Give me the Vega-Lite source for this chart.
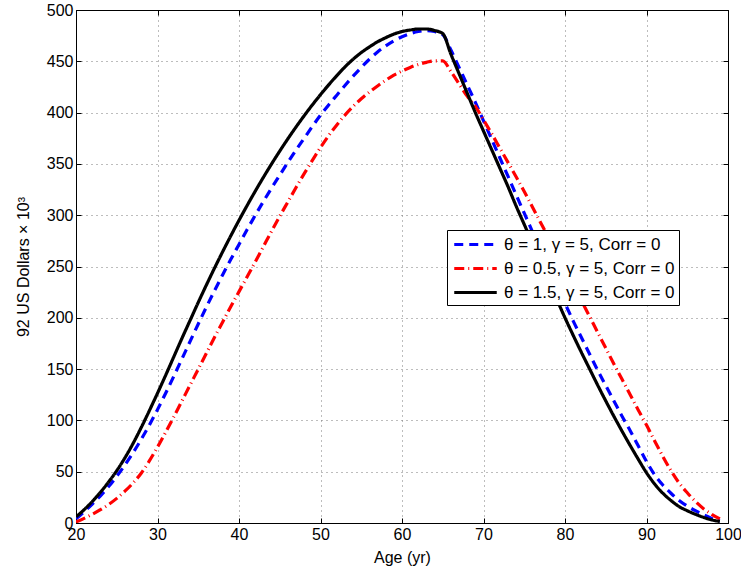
{
  "$schema": "https://vega.github.io/schema/vega-lite/v6.json",
  "width": 652,
  "height": 513,
  "autosize": "none",
  "padding": {"left": 76, "top": 10, "right": 13, "bottom": 50},
  "background": "white",
  "config": {
    "view": {"stroke": "black", "strokeWidth": 1},
    "axis": {
      "labelFont": "Liberation Sans", "labelFontSize": 16, "labelColor": "black",
      "titleFont": "Liberation Sans", "titleFontSize": 16, "titleFontWeight": "normal", "titleColor": "black",
      "domainColor": "black", "domainWidth": 1, "tickColor": "black", "tickWidth": 1,
      "gridColor": "#7a7a7a", "gridDash": [1, 4], "gridWidth": 1, "gridOpacity": 1
    }
  },
  "data": {
    "values": [
      {"age": 20, "t1": 4, "t05": 1, "t15": 6},
      {"age": 21, "t1": 11, "t05": 4.5, "t15": 13},
      {"age": 22, "t1": 18.5, "t05": 8.5, "t15": 21},
      {"age": 23, "t1": 26.5, "t05": 13, "t15": 30},
      {"age": 24, "t1": 35.5, "t05": 18, "t15": 40},
      {"age": 25, "t1": 45.5, "t05": 24, "t15": 51},
      {"age": 26, "t1": 56.5, "t05": 31, "t15": 63.5},
      {"age": 27, "t1": 68.5, "t05": 39, "t15": 77.5},
      {"age": 28, "t1": 81.5, "t05": 48.5, "t15": 93},
      {"age": 29, "t1": 95.5, "t05": 60.5, "t15": 109.5},
      {"age": 30, "t1": 110.5, "t05": 74, "t15": 126.5},
      {"age": 31, "t1": 126.5, "t05": 88.5, "t15": 144},
      {"age": 32, "t1": 143, "t05": 103.5, "t15": 162},
      {"age": 33, "t1": 160, "t05": 119, "t15": 180},
      {"age": 34, "t1": 177, "t05": 134.5, "t15": 197.5},
      {"age": 35, "t1": 194, "t05": 150, "t15": 215},
      {"age": 36, "t1": 210.5, "t05": 165.5, "t15": 232},
      {"age": 37, "t1": 226.5, "t05": 181, "t15": 248.5},
      {"age": 38, "t1": 242, "t05": 196, "t15": 264.5},
      {"age": 39, "t1": 257, "t05": 211, "t15": 280},
      {"age": 40, "t1": 271.5, "t05": 225.5, "t15": 295},
      {"age": 41, "t1": 286, "t05": 240, "t15": 309.5},
      {"age": 42, "t1": 300, "t05": 254.5, "t15": 323.5},
      {"age": 43, "t1": 313.5, "t05": 269.5, "t15": 337},
      {"age": 44, "t1": 326.5, "t05": 284.5, "t15": 350},
      {"age": 45, "t1": 339, "t05": 299, "t15": 362.5},
      {"age": 46, "t1": 351.5, "t05": 313, "t15": 374.5},
      {"age": 47, "t1": 363.5, "t05": 327, "t15": 386},
      {"age": 48, "t1": 375, "t05": 340.5, "t15": 397},
      {"age": 49, "t1": 386.5, "t05": 353.5, "t15": 407.5},
      {"age": 50, "t1": 397.5, "t05": 366, "t15": 417.5},
      {"age": 51, "t1": 407.5, "t05": 377.5, "t15": 427},
      {"age": 52, "t1": 417, "t05": 388, "t15": 436},
      {"age": 53, "t1": 426.5, "t05": 397.5, "t15": 444.5},
      {"age": 54, "t1": 435.5, "t05": 406, "t15": 452},
      {"age": 55, "t1": 444, "t05": 413.5, "t15": 458.5},
      {"age": 56, "t1": 452, "t05": 420, "t15": 464},
      {"age": 57, "t1": 459, "t05": 426, "t15": 469},
      {"age": 58, "t1": 465, "t05": 431.5, "t15": 473},
      {"age": 59, "t1": 470, "t05": 436.5, "t15": 476.5},
      {"age": 60, "t1": 474, "t05": 440.5, "t15": 479},
      {"age": 61, "t1": 477, "t05": 444, "t15": 480.5},
      {"age": 62, "t1": 479, "t05": 447, "t15": 481.5},
      {"age": 63, "t1": 480, "t05": 449, "t15": 481.5},
      {"age": 64, "t1": 479, "t05": 450.5, "t15": 480},
      {"age": 65, "t1": 476, "t05": 450.5, "t15": 477},
      {"age": 66, "t1": 461, "t05": 440, "t15": 457},
      {"age": 67, "t1": 444, "t05": 428, "t15": 438},
      {"age": 68, "t1": 427, "t05": 416, "t15": 419},
      {"age": 69, "t1": 410, "t05": 406, "t15": 400},
      {"age": 70, "t1": 392, "t05": 393, "t15": 382},
      {"age": 71, "t1": 374, "t05": 379.5, "t15": 364},
      {"age": 72, "t1": 356, "t05": 365.5, "t15": 346},
      {"age": 73, "t1": 338, "t05": 351.5, "t15": 328},
      {"age": 74, "t1": 320, "t05": 337.5, "t15": 309},
      {"age": 75, "t1": 302, "t05": 323, "t15": 291},
      {"age": 76, "t1": 284, "t05": 308, "t15": 273},
      {"age": 77, "t1": 266, "t05": 293, "t15": 255},
      {"age": 78, "t1": 248, "t05": 278, "t15": 237},
      {"age": 79, "t1": 231, "t05": 263, "t15": 218},
      {"age": 80, "t1": 214, "t05": 248, "t15": 200},
      {"age": 81, "t1": 197, "t05": 232.5, "t15": 183},
      {"age": 82, "t1": 181, "t05": 217, "t15": 166.5},
      {"age": 83, "t1": 165, "t05": 201.5, "t15": 150.5},
      {"age": 84, "t1": 149, "t05": 186, "t15": 134.5},
      {"age": 85, "t1": 134, "t05": 170.5, "t15": 119},
      {"age": 86, "t1": 119, "t05": 155, "t15": 104},
      {"age": 87, "t1": 104, "t05": 140, "t15": 89.5},
      {"age": 88, "t1": 90, "t05": 125, "t15": 75.5},
      {"age": 89, "t1": 75, "t05": 110, "t15": 62},
      {"age": 90, "t1": 60, "t05": 95.5, "t15": 49},
      {"age": 91, "t1": 47, "t05": 80, "t15": 38},
      {"age": 92, "t1": 37, "t05": 65, "t15": 29},
      {"age": 93, "t1": 29, "t05": 51, "t15": 22},
      {"age": 94, "t1": 22, "t05": 39, "t15": 16},
      {"age": 95, "t1": 16.5, "t05": 29.5, "t15": 12},
      {"age": 96, "t1": 12, "t05": 21, "t15": 8.5},
      {"age": 97, "t1": 8, "t05": 14, "t15": 5.5},
      {"age": 98, "t1": 4.5, "t05": 8.5, "t15": 3},
      {"age": 99, "t1": 2, "t05": 4, "t15": 1.5}
    ]
  },
  "transform": [{"fold": ["t1", "t05", "t15"], "as": ["series", "value"]}],
  "resolve": {"axis": {"x": "independent", "y": "independent"}},
  "layer": [
    {
      "mark": {"type": "line", "strokeWidth": 3.2, "interpolate": "monotone", "clip": true},
      "encoding": {
        "x": {
          "field": "age", "type": "quantitative",
          "scale": {"domain": [20, 100], "nice": false, "zero": false},
          "axis": {"title": "Age (yr)", "values": [20, 30, 40, 50, 60, 70, 80, 90, 100], "grid": true, "tickSize": -5, "labelPadding": 8, "titlePadding": 7, "labelFlush": false}
        },
        "y": {
          "field": "value", "type": "quantitative",
          "scale": {"domain": [0, 500], "nice": false},
          "axis": {"title": "92 US Dollars × 10³", "values": [0, 50, 100, 150, 200, 250, 300, 350, 400, 450, 500], "grid": true, "tickSize": -5, "labelPadding": 8, "titlePadding": 15}
        },
        "color": {
          "field": "series", "type": "nominal",
          "scale": {"domain": ["t1", "t05", "t15"], "range": ["#0000ff", "#ff0000", "#000000"]},
          "legend": {
            "orient": "none", "legendX": 371, "legendY": 220, "title": null,
            "symbolType": "M-2.5,0H2.5", "symbolSize": 289, "symbolStrokeWidth": 3.2, "symbolOffset": 14,
            "labelFont": "Liberation Sans", "labelFontSize": 17, "labelColor": "black", "labelOffset": 18, "labelLimit": 0,
            "strokeColor": "black", "fillColor": "white", "padding": 4, "rowPadding": 5,
            "labelExpr": "datum.label == 't1' ? 'θ = 1, γ = 5, Corr = 0' : datum.label == 't05' ? 'θ = 0.5, γ = 5, Corr = 0' : 'θ = 1.5, γ = 5, Corr = 0'"
          }
        },
        "strokeDash": {
          "field": "series", "type": "nominal",
          "scale": {"domain": ["t1", "t05", "t15"], "range": [[9, 6], [10, 4, 1, 4], [1, 0]]},
          "legend": null
        },
        "order": {"field": "age", "type": "quantitative"}
      }
    },
    {
      "mark": {"type": "line", "opacity": 0},
      "encoding": {
        "x": {
          "field": "age", "type": "quantitative",
          "scale": {"domain": [20, 100], "nice": false, "zero": false},
          "axis": {"orient": "top", "title": null, "labels": false, "grid": false, "tickSize": -5, "values": [20, 30, 40, 50, 60, 70, 80, 90, 100]}
        },
        "y": {
          "field": "value", "type": "quantitative",
          "scale": {"domain": [0, 500], "nice": false},
          "axis": {"orient": "right", "title": null, "labels": false, "grid": false, "tickSize": -5, "values": [0, 50, 100, 150, 200, 250, 300, 350, 400, 450, 500]}
        },
        "detail": {"field": "series", "type": "nominal"}
      }
    }
  ]
}
